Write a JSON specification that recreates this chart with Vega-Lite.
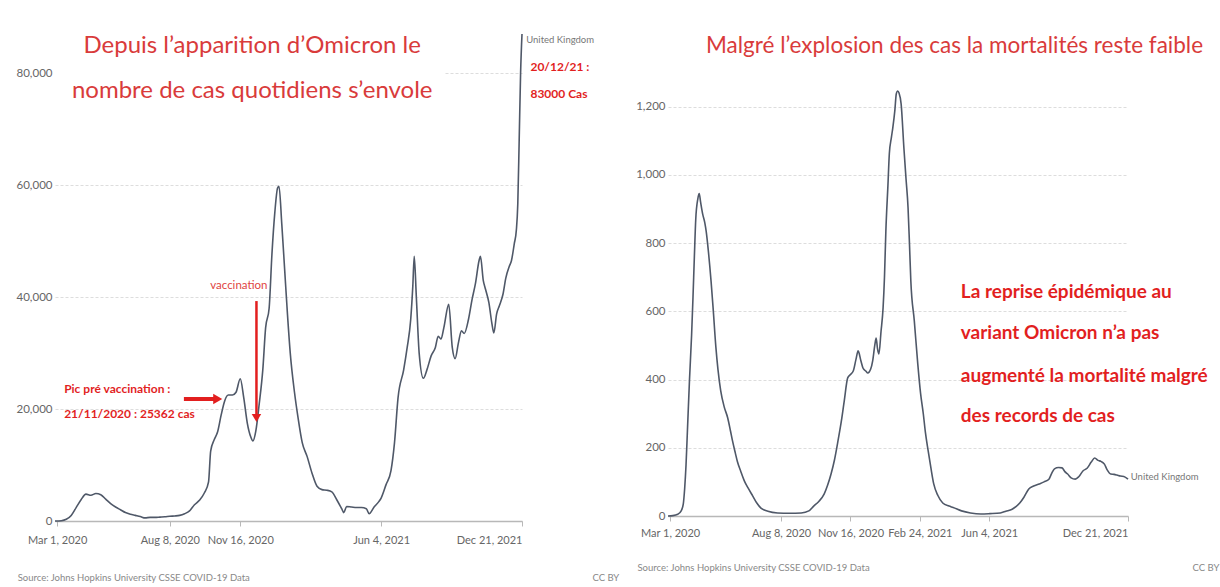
{
  "$schema": "https://vega.github.io/schema/vega-lite/v6.json",
  "background": "white",
  "padding": {"left": 16, "top": 30, "right": 0, "bottom": 0},
  "spacing": 146,
  "bounds": "flush",
  "config": {
    "view": {"stroke": null},
    "font": "Lato",
    "axis": {"title": null, "labelFont": "Lato", "labelColor": "#666666", "gridColor": "#dddddd", "gridDash": [3, 2], "gridWidth": 1},
    "axisX": {"grid": false, "domainColor": "#b8b8b8", "domainWidth": 1.5, "tickColor": "#b8b8b8", "tickSize": 5, "labelFontSize": 11, "labelFlush": true, "labelOverlap": false},
    "axisY": {"domain": false, "ticks": false, "labelPadding": 3, "labelFontSize": 11.5}
  },
  "datasets": {
    "cases": [
      {"date": "2020-02-27", "value": 0}, {"date": "2020-03-07", "value": 50}, {"date": "2020-03-14", "value": 300}, {"date": "2020-03-21", "value": 1000}, {"date": "2020-03-28", "value": 2400}, {"date": "2020-04-04", "value": 3800}, {"date": "2020-04-11", "value": 4800}, {"date": "2020-04-18", "value": 4600}, {"date": "2020-04-25", "value": 4900}, {"date": "2020-05-02", "value": 4700}, {"date": "2020-05-09", "value": 3900}, {"date": "2020-05-16", "value": 3100}, {"date": "2020-05-23", "value": 2500}, {"date": "2020-05-30", "value": 2000}, {"date": "2020-06-06", "value": 1500}, {"date": "2020-06-13", "value": 1200}, {"date": "2020-06-20", "value": 1000}, {"date": "2020-06-27", "value": 800}, {"date": "2020-07-04", "value": 550}, {"date": "2020-07-11", "value": 650}, {"date": "2020-07-18", "value": 650}, {"date": "2020-07-25", "value": 700}, {"date": "2020-08-01", "value": 750}, {"date": "2020-08-08", "value": 850}, {"date": "2020-08-15", "value": 900}, {"date": "2020-08-22", "value": 1000}, {"date": "2020-08-29", "value": 1300}, {"date": "2020-09-05", "value": 1800}, {"date": "2020-09-12", "value": 2900}, {"date": "2020-09-19", "value": 3700}, {"date": "2020-09-26", "value": 5000}, {"date": "2020-10-02", "value": 7000}, {"date": "2020-10-05", "value": 12500}, {"date": "2020-10-10", "value": 14500}, {"date": "2020-10-15", "value": 16000}, {"date": "2020-10-20", "value": 19000}, {"date": "2020-10-25", "value": 21500}, {"date": "2020-10-30", "value": 22500}, {"date": "2020-11-05", "value": 22500}, {"date": "2020-11-10", "value": 23000}, {"date": "2020-11-16", "value": 25400}, {"date": "2020-11-21", "value": 22000}, {"date": "2020-11-26", "value": 17500}, {"date": "2020-12-01", "value": 15000}, {"date": "2020-12-04", "value": 14300}, {"date": "2020-12-08", "value": 16000}, {"date": "2020-12-13", "value": 21000}, {"date": "2020-12-18", "value": 27000}, {"date": "2020-12-22", "value": 34500}, {"date": "2020-12-27", "value": 38000}, {"date": "2020-12-31", "value": 47700}, {"date": "2021-01-04", "value": 55000}, {"date": "2021-01-08", "value": 59500}, {"date": "2021-01-10", "value": 59800}, {"date": "2021-01-14", "value": 53000}, {"date": "2021-01-18", "value": 45000}, {"date": "2021-01-22", "value": 37000}, {"date": "2021-01-26", "value": 30000}, {"date": "2021-02-01", "value": 23000}, {"date": "2021-02-06", "value": 18500}, {"date": "2021-02-12", "value": 14000}, {"date": "2021-02-19", "value": 11500}, {"date": "2021-02-26", "value": 8500}, {"date": "2021-03-05", "value": 6200}, {"date": "2021-03-12", "value": 5600}, {"date": "2021-03-19", "value": 5500}, {"date": "2021-03-26", "value": 5200}, {"date": "2021-04-02", "value": 3800}, {"date": "2021-04-09", "value": 2200}, {"date": "2021-04-12", "value": 1500}, {"date": "2021-04-16", "value": 2600}, {"date": "2021-04-23", "value": 2500}, {"date": "2021-04-30", "value": 2400}, {"date": "2021-05-07", "value": 2400}, {"date": "2021-05-14", "value": 2200}, {"date": "2021-05-18", "value": 1300}, {"date": "2021-05-25", "value": 2500}, {"date": "2021-06-01", "value": 3500}, {"date": "2021-06-04", "value": 4100}, {"date": "2021-06-11", "value": 6500}, {"date": "2021-06-18", "value": 9000}, {"date": "2021-06-23", "value": 14000}, {"date": "2021-06-28", "value": 22000}, {"date": "2021-07-06", "value": 27000}, {"date": "2021-07-11", "value": 31000}, {"date": "2021-07-16", "value": 36000}, {"date": "2021-07-19", "value": 42000}, {"date": "2021-07-21", "value": 47300}, {"date": "2021-07-24", "value": 40000}, {"date": "2021-07-28", "value": 30000}, {"date": "2021-08-03", "value": 25500}, {"date": "2021-08-08", "value": 27000}, {"date": "2021-08-14", "value": 29500}, {"date": "2021-08-20", "value": 31000}, {"date": "2021-08-24", "value": 33000}, {"date": "2021-08-28", "value": 32500}, {"date": "2021-09-01", "value": 34500}, {"date": "2021-09-08", "value": 38700}, {"date": "2021-09-13", "value": 31000}, {"date": "2021-09-17", "value": 29000}, {"date": "2021-09-22", "value": 32000}, {"date": "2021-09-26", "value": 34000}, {"date": "2021-09-30", "value": 33500}, {"date": "2021-10-06", "value": 36000}, {"date": "2021-10-11", "value": 39500}, {"date": "2021-10-16", "value": 42500}, {"date": "2021-10-21", "value": 46500}, {"date": "2021-10-23", "value": 47300}, {"date": "2021-10-27", "value": 43000}, {"date": "2021-10-30", "value": 41500}, {"date": "2021-11-04", "value": 39000}, {"date": "2021-11-08", "value": 35500}, {"date": "2021-11-11", "value": 33600}, {"date": "2021-11-15", "value": 37000}, {"date": "2021-11-19", "value": 38500}, {"date": "2021-11-24", "value": 40500}, {"date": "2021-11-28", "value": 43400}, {"date": "2021-12-03", "value": 45500}, {"date": "2021-12-06", "value": 46500}, {"date": "2021-12-10", "value": 49500}, {"date": "2021-12-13", "value": 52000}, {"date": "2021-12-15", "value": 56600}, {"date": "2021-12-17", "value": 68000}, {"date": "2021-12-19", "value": 80000}, {"date": "2021-12-21", "value": 87000}
    ],
    "deaths": [
      {"date": "2020-02-27", "value": 0}, {"date": "2020-03-05", "value": 1}, {"date": "2020-03-12", "value": 5}, {"date": "2020-03-17", "value": 15}, {"date": "2020-03-20", "value": 35}, {"date": "2020-03-22", "value": 80}, {"date": "2020-03-24", "value": 150}, {"date": "2020-03-26", "value": 250}, {"date": "2020-03-29", "value": 400}, {"date": "2020-04-01", "value": 530}, {"date": "2020-04-03", "value": 640}, {"date": "2020-04-05", "value": 760}, {"date": "2020-04-07", "value": 870}, {"date": "2020-04-10", "value": 930}, {"date": "2020-04-12", "value": 945}, {"date": "2020-04-14", "value": 920}, {"date": "2020-04-17", "value": 885}, {"date": "2020-04-20", "value": 860}, {"date": "2020-04-22", "value": 835}, {"date": "2020-04-25", "value": 780}, {"date": "2020-04-29", "value": 690}, {"date": "2020-05-02", "value": 610}, {"date": "2020-05-06", "value": 495}, {"date": "2020-05-09", "value": 430}, {"date": "2020-05-13", "value": 367}, {"date": "2020-05-18", "value": 320}, {"date": "2020-05-23", "value": 288}, {"date": "2020-05-27", "value": 250}, {"date": "2020-05-30", "value": 220}, {"date": "2020-06-03", "value": 185}, {"date": "2020-06-06", "value": 160}, {"date": "2020-06-11", "value": 130}, {"date": "2020-06-16", "value": 103}, {"date": "2020-06-22", "value": 80}, {"date": "2020-06-28", "value": 59}, {"date": "2020-07-04", "value": 38}, {"date": "2020-07-10", "value": 23}, {"date": "2020-07-20", "value": 14}, {"date": "2020-08-03", "value": 9}, {"date": "2020-08-20", "value": 8}, {"date": "2020-09-06", "value": 9}, {"date": "2020-09-17", "value": 15}, {"date": "2020-09-24", "value": 29}, {"date": "2020-10-01", "value": 42}, {"date": "2020-10-09", "value": 64}, {"date": "2020-10-14", "value": 90}, {"date": "2020-10-19", "value": 123}, {"date": "2020-10-24", "value": 165}, {"date": "2020-10-29", "value": 220}, {"date": "2020-11-03", "value": 280}, {"date": "2020-11-07", "value": 337}, {"date": "2020-11-12", "value": 405}, {"date": "2020-11-16", "value": 415}, {"date": "2020-11-20", "value": 425}, {"date": "2020-11-24", "value": 460}, {"date": "2020-11-27", "value": 484}, {"date": "2020-12-01", "value": 455}, {"date": "2020-12-04", "value": 434}, {"date": "2020-12-08", "value": 425}, {"date": "2020-12-11", "value": 419}, {"date": "2020-12-15", "value": 430}, {"date": "2020-12-18", "value": 455}, {"date": "2020-12-21", "value": 500}, {"date": "2020-12-23", "value": 522}, {"date": "2020-12-25", "value": 490}, {"date": "2020-12-27", "value": 475}, {"date": "2020-12-30", "value": 540}, {"date": "2021-01-02", "value": 610}, {"date": "2021-01-04", "value": 700}, {"date": "2021-01-06", "value": 835}, {"date": "2021-01-09", "value": 970}, {"date": "2021-01-11", "value": 1062}, {"date": "2021-01-14", "value": 1110}, {"date": "2021-01-16", "value": 1138}, {"date": "2021-01-19", "value": 1190}, {"date": "2021-01-21", "value": 1237}, {"date": "2021-01-23", "value": 1246}, {"date": "2021-01-25", "value": 1240}, {"date": "2021-01-28", "value": 1208}, {"date": "2021-02-01", "value": 1079}, {"date": "2021-02-04", "value": 990}, {"date": "2021-02-07", "value": 903}, {"date": "2021-02-09", "value": 800}, {"date": "2021-02-11", "value": 689}, {"date": "2021-02-16", "value": 572}, {"date": "2021-02-21", "value": 446}, {"date": "2021-02-25", "value": 360}, {"date": "2021-03-01", "value": 299}, {"date": "2021-03-04", "value": 245}, {"date": "2021-03-08", "value": 191}, {"date": "2021-03-12", "value": 140}, {"date": "2021-03-16", "value": 94}, {"date": "2021-03-22", "value": 60}, {"date": "2021-03-29", "value": 38}, {"date": "2021-04-07", "value": 29}, {"date": "2021-04-13", "value": 25}, {"date": "2021-04-25", "value": 15}, {"date": "2021-05-08", "value": 9}, {"date": "2021-05-23", "value": 6}, {"date": "2021-06-05", "value": 7}, {"date": "2021-06-20", "value": 9}, {"date": "2021-06-28", "value": 14}, {"date": "2021-07-07", "value": 20}, {"date": "2021-07-13", "value": 28}, {"date": "2021-07-18", "value": 38}, {"date": "2021-07-24", "value": 55}, {"date": "2021-07-31", "value": 79}, {"date": "2021-08-07", "value": 88}, {"date": "2021-08-15", "value": 94}, {"date": "2021-08-22", "value": 100}, {"date": "2021-08-29", "value": 108}, {"date": "2021-09-02", "value": 125}, {"date": "2021-09-06", "value": 138}, {"date": "2021-09-12", "value": 142}, {"date": "2021-09-17", "value": 141}, {"date": "2021-09-21", "value": 130}, {"date": "2021-09-25", "value": 123}, {"date": "2021-09-30", "value": 112}, {"date": "2021-10-06", "value": 108}, {"date": "2021-10-11", "value": 115}, {"date": "2021-10-17", "value": 132}, {"date": "2021-10-23", "value": 140}, {"date": "2021-10-29", "value": 158}, {"date": "2021-11-03", "value": 170}, {"date": "2021-11-08", "value": 163}, {"date": "2021-11-12", "value": 160}, {"date": "2021-11-17", "value": 152}, {"date": "2021-11-21", "value": 135}, {"date": "2021-11-26", "value": 123}, {"date": "2021-12-01", "value": 122}, {"date": "2021-12-05", "value": 120}, {"date": "2021-12-10", "value": 117}, {"date": "2021-12-15", "value": 116}, {"date": "2021-12-21", "value": 108}
    ],
    "annL": [
      {"kind": "box", "date": "2020-02-27", "date2": "2021-09-02", "value": 71440, "value2": 87000},
      {"kind": "title", "date": "2020-12-03", "value": 84835, "label": "Depuis l’apparition d’Omicron le"},
      {"kind": "title", "date": "2020-12-03", "value": 76800, "label": "nombre de cas quotidiens  s’envole"},
      {"kind": "vacc", "date": "2020-11-14", "value": 41970, "label": "vaccination"},
      {"kind": "bold", "date": "2020-03-11", "value": 23575, "label": "Pic pré vaccination :"},
      {"kind": "bold", "date": "2020-03-11", "value": 19110, "label": "21/11/2020  : 25362 cas"},
      {"kind": "bold", "date": "2022-01-02", "value": 81080, "label": "20/12/21 :"},
      {"kind": "bold", "date": "2022-01-02", "value": 76260, "label": "83000 Cas"},
      {"kind": "uk", "date": "2021-12-27", "value": 85900, "label": "United Kingdom"},
      {"kind": "src", "date": "2020-01-05", "value": -10180, "label": "Source: Johns Hopkins University CSSE COVID-19 Data"},
      {"kind": "src", "date": "2022-03-31", "value": -10180, "label": "CC BY"},
      {"kind": "varrow", "date": "2020-12-09", "date2": "2020-12-09", "value": 39290, "value2": 18400},
      {"kind": "harrow", "date": "2020-08-28", "date2": "2020-10-15", "value": 21790, "value2": 21790},
      {"kind": "vhead", "date": "2020-12-09", "value": 18400},
      {"kind": "hhead", "date": "2020-10-15", "value": 21790}
    ],
    "annR": [
      {"kind": "title", "date": "2021-04-15", "value": 1378, "label": "Malgré l’explosion des cas la mortalités reste faible"},
      {"kind": "big", "date": "2021-04-24", "value": 657, "label": "La reprise épidémique au"},
      {"kind": "big", "date": "2021-04-24", "value": 537, "label": "variant Omicron n’a pas"},
      {"kind": "big", "date": "2021-04-24", "value": 411, "label": "augmenté la mortalité malgré"},
      {"kind": "big", "date": "2021-04-24", "value": 293, "label": "des records de cas"},
      {"kind": "uk", "date": "2021-12-25", "value": 114, "label": "United Kingdom"},
      {"kind": "src", "date": "2020-01-14", "value": -152, "label": "Source: Johns Hopkins University CSSE COVID-19 Data"},
      {"kind": "src", "date": "2022-03-24", "value": -152, "label": "CC BY"}
    ]
  },
  "hconcat": [
    {
      "width": 467,
      "height": 487,
      "layer": [
        {
          "data": {"name": "cases"},
          "mark": {"type": "line", "color": "#4f5868", "strokeWidth": 1.6, "interpolate": "monotone"},
          "encoding": {
            "x": {"field": "date", "type": "temporal", "scale": {"domain": ["2020-02-27", "2021-12-21"]}, "axis": {"values": ["2020-03-01", "2020-08-08", "2020-11-16", "2021-06-04", "2021-12-21"], "format": "%b %-d, %Y", "labelPadding": 8}},
            "y": {"field": "value", "type": "quantitative", "scale": {"domain": [0, 87000], "nice": false}, "axis": {"values": [0, 20000, 40000, 60000, 80000], "format": ",.0f"}}
          }
        },
        {
          "data": {"name": "annL"},
          "transform": [{"filter": "datum.kind === 'box'"}],
          "mark": {"type": "rect", "color": "white"},
          "encoding": {
            "x": {"field": "date", "type": "temporal"}, "x2": {"field": "date2"},
            "y": {"field": "value", "type": "quantitative"}, "y2": {"field": "value2"}
          }
        },
        {
          "data": {"name": "annL"},
          "transform": [{"filter": "datum.kind === 'title'"}],
          "mark": {"type": "text", "font": "Lato", "fontSize": 24, "color": "#d93b3b", "align": "center", "baseline": "middle"},
          "encoding": {"x": {"field": "date", "type": "temporal"}, "y": {"field": "value", "type": "quantitative"}, "text": {"field": "label"}}
        },
        {
          "data": {"name": "annL"},
          "transform": [{"filter": "datum.kind === 'vacc'"}],
          "mark": {"type": "text", "font": "Lato", "fontSize": 11.5, "color": "#e0443f", "align": "center", "baseline": "middle"},
          "encoding": {"x": {"field": "date", "type": "temporal"}, "y": {"field": "value", "type": "quantitative"}, "text": {"field": "label"}}
        },
        {
          "data": {"name": "annL"},
          "transform": [{"filter": "datum.kind === 'bold'"}],
          "mark": {"type": "text", "font": "Lato", "fontSize": 12, "fontWeight": "bold", "color": "#e21f1f", "align": "left", "baseline": "middle"},
          "encoding": {"x": {"field": "date", "type": "temporal"}, "y": {"field": "value", "type": "quantitative"}, "text": {"field": "label"}}
        },
        {
          "data": {"name": "annL"},
          "transform": [{"filter": "datum.kind === 'uk'"}],
          "mark": {"type": "text", "font": "Lato", "fontSize": 9.5, "color": "#777777", "align": "left", "baseline": "middle"},
          "encoding": {"x": {"field": "date", "type": "temporal"}, "y": {"field": "value", "type": "quantitative"}, "text": {"field": "label"}}
        },
        {
          "data": {"name": "annL"},
          "transform": [{"filter": "datum.kind === 'src'"}],
          "mark": {"type": "text", "font": "Lato", "fontSize": 9.5, "color": "#888888", "align": "left", "baseline": "middle"},
          "encoding": {"x": {"field": "date", "type": "temporal"}, "y": {"field": "value", "type": "quantitative"}, "text": {"field": "label"}}
        },
        {
          "data": {"name": "annL"},
          "transform": [{"filter": "datum.kind === 'varrow'"}],
          "mark": {"type": "rule", "color": "#e21f1f", "strokeWidth": 2.5},
          "encoding": {"x": {"field": "date", "type": "temporal"}, "x2": {"field": "date2"}, "y": {"field": "value", "type": "quantitative"}, "y2": {"field": "value2"}}
        },
        {
          "data": {"name": "annL"},
          "transform": [{"filter": "datum.kind === 'harrow'"}],
          "mark": {"type": "rule", "color": "#e21f1f", "strokeWidth": 4},
          "encoding": {"x": {"field": "date", "type": "temporal"}, "x2": {"field": "date2"}, "y": {"field": "value", "type": "quantitative"}, "y2": {"field": "value2"}}
        },
        {
          "data": {"name": "annL"},
          "transform": [{"filter": "datum.kind === 'vhead'"}],
          "mark": {"type": "point", "shape": "triangle-down", "filled": true, "color": "#e21f1f", "size": 90, "opacity": 1},
          "encoding": {"x": {"field": "date", "type": "temporal"}, "y": {"field": "value", "type": "quantitative"}}
        },
        {
          "data": {"name": "annL"},
          "transform": [{"filter": "datum.kind === 'hhead'"}],
          "mark": {"type": "point", "shape": "triangle-right", "filled": true, "color": "#e21f1f", "size": 110, "opacity": 1},
          "encoding": {"x": {"field": "date", "type": "temporal"}, "y": {"field": "value", "type": "quantitative"}}
        }
      ]
    },
    {
      "width": 460,
      "height": 482,
      "layer": [
        {
          "data": {"name": "deaths"},
          "mark": {"type": "line", "color": "#4f5868", "strokeWidth": 1.6, "interpolate": "monotone"},
          "encoding": {
            "x": {"field": "date", "type": "temporal", "scale": {"domain": ["2020-02-27", "2021-12-21"]}, "axis": {"values": ["2020-03-01", "2020-08-08", "2020-11-16", "2021-02-24", "2021-06-04", "2021-12-21"], "format": "%b %-d, %Y", "labelPadding": 6}},
            "y": {"field": "value", "type": "quantitative", "scale": {"domain": [0, 1413], "nice": false}, "axis": {"values": [0, 200, 400, 600, 800, 1000, 1200], "format": ",.0f"}}
          }
        },
        {
          "data": {"name": "annR"},
          "transform": [{"filter": "datum.kind === 'title'"}],
          "mark": {"type": "text", "font": "Lato", "fontSize": 22.5, "color": "#d93b3b", "align": "center", "baseline": "middle"},
          "encoding": {"x": {"field": "date", "type": "temporal"}, "y": {"field": "value", "type": "quantitative"}, "text": {"field": "label"}}
        },
        {
          "data": {"name": "annR"},
          "transform": [{"filter": "datum.kind === 'big'"}],
          "mark": {"type": "text", "font": "Lato", "fontSize": 19, "fontWeight": "bold", "color": "#e21f1f", "align": "left", "baseline": "middle"},
          "encoding": {"x": {"field": "date", "type": "temporal"}, "y": {"field": "value", "type": "quantitative"}, "text": {"field": "label"}}
        },
        {
          "data": {"name": "annR"},
          "transform": [{"filter": "datum.kind === 'uk'"}],
          "mark": {"type": "text", "font": "Lato", "fontSize": 9.5, "color": "#777777", "align": "left", "baseline": "middle"},
          "encoding": {"x": {"field": "date", "type": "temporal"}, "y": {"field": "value", "type": "quantitative"}, "text": {"field": "label"}}
        },
        {
          "data": {"name": "annR"},
          "transform": [{"filter": "datum.kind === 'src'"}],
          "mark": {"type": "text", "font": "Lato", "fontSize": 9.5, "color": "#888888", "align": "left", "baseline": "middle"},
          "encoding": {"x": {"field": "date", "type": "temporal"}, "y": {"field": "value", "type": "quantitative"}, "text": {"field": "label"}}
        }
      ]
    }
  ]
}
